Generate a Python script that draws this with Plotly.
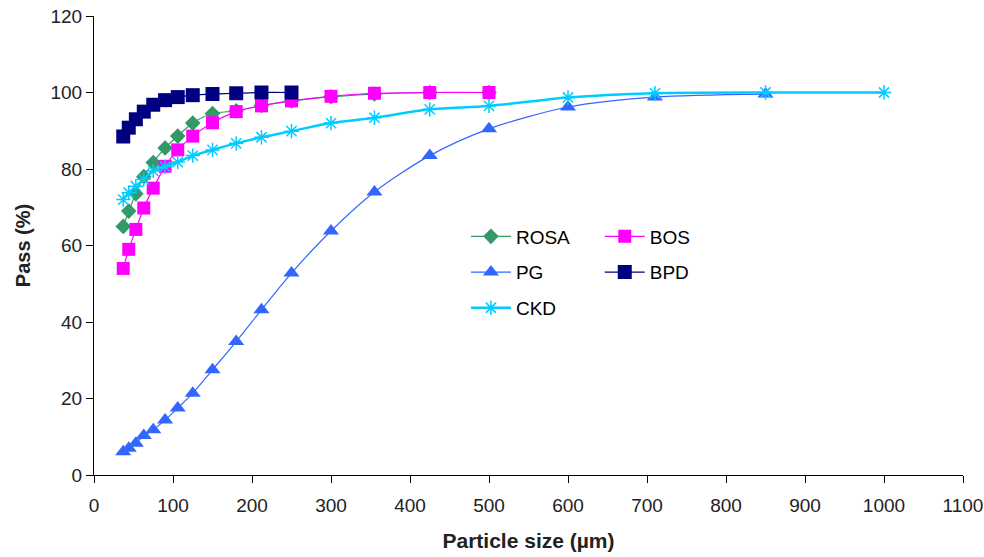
import plotly.graph_objects as go

sieve = [37, 44, 53, 63, 75, 90, 106, 125, 150, 180, 212, 250, 300, 355, 425, 500, 600, 710, 850, 1000]

rosa_x = sieve[:16]
rosa_y = [65, 69, 73.5, 78, 81.7, 85.5, 88.6, 92, 94.5, 95.2, 96.6, 97.8, 98.9, 99.6, 100, 100]

bos_x = sieve[:16]
bos_y = [54, 59, 64.2, 69.8, 75, 80.7, 85, 88.6, 92.1, 95, 96.5, 97.8, 99, 99.8, 100, 100]

pg_x = sieve[:19]
pg_y = [6.1, 7, 8.3, 10.3, 11.8, 14.4, 17.5, 21.4, 27.5, 34.9, 43.2, 52.8,
        63.8, 74, 83.5, 90.5, 96.2, 98.8, 99.6]

bpd_x = sieve[:12]
bpd_y = [88.5, 90.8, 93, 95, 96.8, 98, 98.8, 99.3, 99.6, 99.8, 100, 100]

ckd_x = sieve
ckd_y = [72, 73.8, 75.5, 77.3, 79.5, 80.6, 81.8, 83.5, 85, 86.7, 88.3, 89.9,
         92, 93.4, 95.6, 96.5, 98.7, 99.8, 100, 100]

FONT = "Liberation Sans, Arial, sans-serif"

fig = go.Figure()

def add(name, x, y, color, symbol, size, lw, legend, mline=None):
    marker = dict(symbol=symbol, size=size, color=color)
    if mline:
        marker["line"] = dict(color=color, width=mline)
    fig.add_trace(go.Scatter(
        x=x, y=y, name=name, mode="lines+markers",
        line=dict(color=color, width=lw, shape="spline", smoothing=0.8),
        marker=marker, legend=legend, legendgroup=name,
    ))

add("ROSA", rosa_x, rosa_y, "#339966", "diamond", 12, 1.2, "legend")
add("BOS", bos_x, bos_y, "#FF00FF", "square", 13, 1.2, "legend2")
add("PG", pg_x, pg_y, "#3366FF", "triangle-up", 14, 1.2, "legend")
add("BPD", bpd_x, bpd_y, "#000080", "square", 14, 1.2, "legend2")
add("CKD", ckd_x, ckd_y, "#00CCFF", "asterisk-open", 12, 2.5, "legend", mline=1.5)

legend_common = dict(
    font=dict(family=FONT, size=19, color="#000000"),
    bgcolor="rgba(0,0,0,0)", borderwidth=0,
    tracegroupgap=8, itemwidth=40, yanchor="top", xanchor="left",
)

fig.update_layout(
    width=984, height=557,
    margin=dict(l=94, r=21, t=16, b=82, autoexpand=False),
    plot_bgcolor="white", paper_bgcolor="white",
    font=dict(family=FONT, size=19, color="#222222"),
    legend=dict(x=0.428, y=0.561, **legend_common),
    legend2=dict(x=0.582, y=0.561, **legend_common),
    xaxis=dict(
        range=[0, 1100], dtick=100, tick0=0,
        showline=True, linecolor="#000000", linewidth=1.2,
        ticks="outside", ticklen=7, tickcolor="#000000",
        showgrid=False, zeroline=False, ticklabelstandoff=6,
        automargin=False, ticklabeloverflow="allow",
        tickfont=dict(family=FONT, size=19, color="#222222"),
        title=dict(text="<b>Particle size (µm)</b>", font=dict(family=FONT, size=21, color="#222222"), standoff=18),
    ),
    yaxis=dict(
        range=[0, 120], dtick=20, tick0=0,
        showline=True, linecolor="#000000", linewidth=1.2,
        ticks="outside", ticklen=7, tickcolor="#000000",
        showgrid=False, zeroline=False,
        automargin=False, ticklabeloverflow="allow",
        tickfont=dict(family=FONT, size=19, color="#222222"),
        title=dict(text="<b>Pass (%)</b>", font=dict(family=FONT, size=20, color="#222222"), standoff=14),
    ),
    showlegend=True,
)

fig.write_html("out.html")
